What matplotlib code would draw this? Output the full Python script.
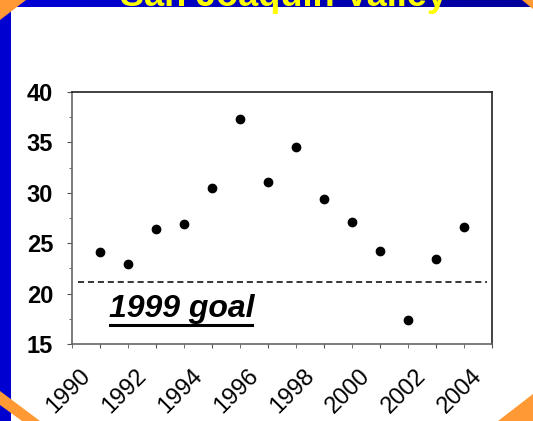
import numpy as np
import matplotlib.pyplot as plt
from matplotlib.patches import Polygon, Rectangle
from matplotlib.lines import Line2D
from matplotlib.colors import LinearSegmentedColormap
import matplotlib.transforms as mtransforms

plt.rcParams['font.family'] = ['Liberation Sans', 'DejaVu Sans']

years = [1990, 1991, 1992, 1993, 1994, 1995, 1996,
         1997, 1998, 1999, 2000, 2001, 2002, 2003]
values = [24.1, 22.9, 26.4, 26.9, 30.45, 37.3, 31.1,
          34.5, 29.4, 27.1, 24.2, 17.4, 23.4, 26.6]
goal = 21.2
goal_span = [1989.22, 2003.83]
xtick_years = [1990, 1992, 1994, 1996, 1998, 2000, 2002, 2004]
ytick_vals = [15, 20, 25, 30, 35, 40]

W, H = 533, 421
fig = plt.figure(figsize=(W / 100, H / 100), dpi=100)
fig.patch.set_facecolor('white')

# slide decoration drawn in pixel coordinates
bg = fig.add_axes([0, 0, 1, 1], zorder=-1)
bg.axis('off')
grad = np.linspace(0, 1, 256).reshape(1, -1)
band_cmap = LinearSegmentedColormap.from_list('band', ['#0000d8', '#00009a'])
bg.imshow(grad, cmap=band_cmap, extent=[0, W, 7.5, 0], aspect='auto')
bg.add_patch(Rectangle((0, 0), 11, H, color='#0000d0', lw=0))
orange = '#ff9933'
bg.add_patch(Polygon([[0, 0], [26, 0], [0, 20]], color=orange, lw=0))
bg.add_patch(Polygon([[W - 11, 0], [W, 0], [W, 9]], color=orange, lw=0))
bg.add_patch(Polygon([[0, 391], [0, 405], [22, H], [40, H]], color=orange, lw=0))
bg.add_patch(Polygon([[W, 394], [W, H], [498, H]], color=orange, lw=0))
bg.set_xlim(0, W)
bg.set_ylim(H, 0)

fig.text(283 / W, 1 - 6 / H, 'San Joaquin Valley', ha='center', va='baseline',
         color='#ffff00', fontsize=26, fontweight='bold')

ax = fig.add_axes([72 / W, 1 - 344 / H, 420 / W, 252 / H])
ax.plot(years, values, 'o', color='black', ms=6)
ax.hlines(goal, goal_span[0], goal_span[1], colors='black', lw=1.1,
          linestyles=(0, (4, 2.5)))

ax.set_xlim(1989, 2004)
ax.set_ylim(15, 40)
ax.set_xticks(xtick_years)
ax.set_xticks(range(1989, 2005), minor=True)
ax.set_xticklabels([str(y) for y in xtick_years], rotation=45, ha='right',
                   fontsize=17)
ax.set_yticks(ytick_vals)
ax.set_yticks(np.arange(15, 40.1, 2.5), minor=True)
ax.set_yticklabels([str(v) for v in ytick_vals], fontsize=17, fontweight='bold')

ax.tick_params(axis='both', which='both', direction='out', color='#555555')
ax.tick_params(axis='x', which='both', length=3, pad=12)
ax.tick_params(axis='y', which='major', length=3.5, pad=10)
ax.tick_params(axis='y', which='minor', length=2)

offset = mtransforms.ScaledTranslation(-5 / 100, 0, fig.dpi_scale_trans)
for lab in ax.get_xticklabels():
    lab.set_transform(lab.get_transform() + offset)

for s in ['left', 'bottom']:
    ax.spines[s].set_color('#666666')
for s in ['top', 'right']:
    ax.spines[s].set_color('#222222')
for s in ax.spines.values():
    s.set_linewidth(1.2)

txt = ax.text(1990.32, 17.7, '1999 goal', fontsize=23, fontweight='bold',
              fontstyle='italic', ha='left', va='baseline')

# underline under the goal label
fig.canvas.draw()
bb = txt.get_window_extent()
uy = bb.y0 - 1
fig.add_artist(Line2D([bb.x0 + 1, bb.x1 - 2], [uy, uy], color='black', lw=2.2,
                      transform=None))

fig.savefig('out.png', dpi=100)
